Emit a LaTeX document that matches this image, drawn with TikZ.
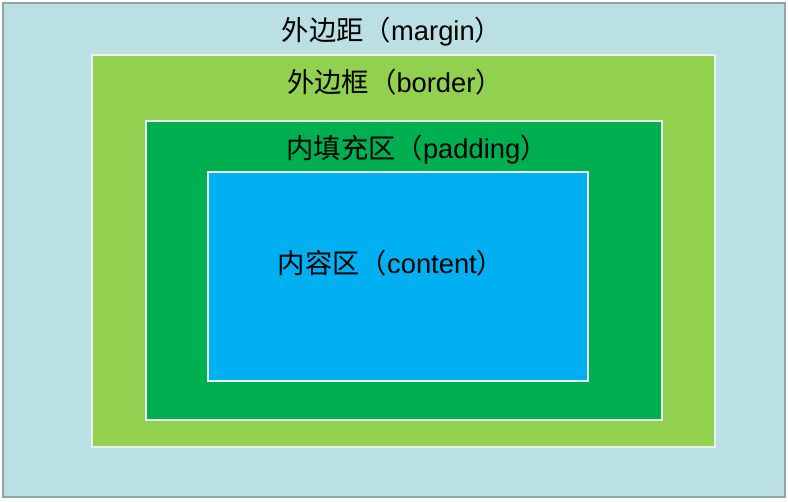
\documentclass[tikz,border=0pt]{standalone}
\usepackage{fontspec}
\setmainfont{Liberation Sans}
\newfontfamily\cjk{Noto Sans CJK SC}
\definecolor{marginc}{HTML}{BBE0E3}
\definecolor{marginline}{HTML}{8FA5A8}
\definecolor{borderc}{HTML}{92D050}
\definecolor{paddingc}{HTML}{00B050}
\definecolor{contentc}{HTML}{00B0F0}
\definecolor{edgec}{HTML}{E8F0F0}
\tikzset{
  boxlayer/.style={draw=edgec, line width=0.8pt},
  lbl/.style={font=\fontsize{20.5pt}{22pt}\selectfont, text=black, inner sep=0pt}
}
\begin{document}
\begin{tikzpicture}[x=0.75pt,y=-0.75pt]
\useasboundingbox (0,0) rectangle (788,501);
\fill[white] (0,0) rectangle (788,501);
\draw[fill=marginc, draw=marginline, line width=1pt] (3,3) rectangle (785,497);
\draw[boxlayer, fill=borderc] (92,55) rectangle (715,447);
\draw[boxlayer, fill=paddingc] (146,121) rectangle (662,420);
\draw[boxlayer, fill=contentc] (208,172) rectangle (588,381);
\node[lbl] (m) at (392,32) {{\cjk 外边距（}margin{\cjk ）}};
\node[lbl] (b) at (395,82) {{\cjk 外边框（}border{\cjk ）}};
\node[lbl] (p) at (417,150) {{\cjk 内填充区（}padding{\cjk ）}};
\node[lbl] (c) at (391,263) {{\cjk 内容区（}content{\cjk ）}};
\end{tikzpicture}
\end{document}
